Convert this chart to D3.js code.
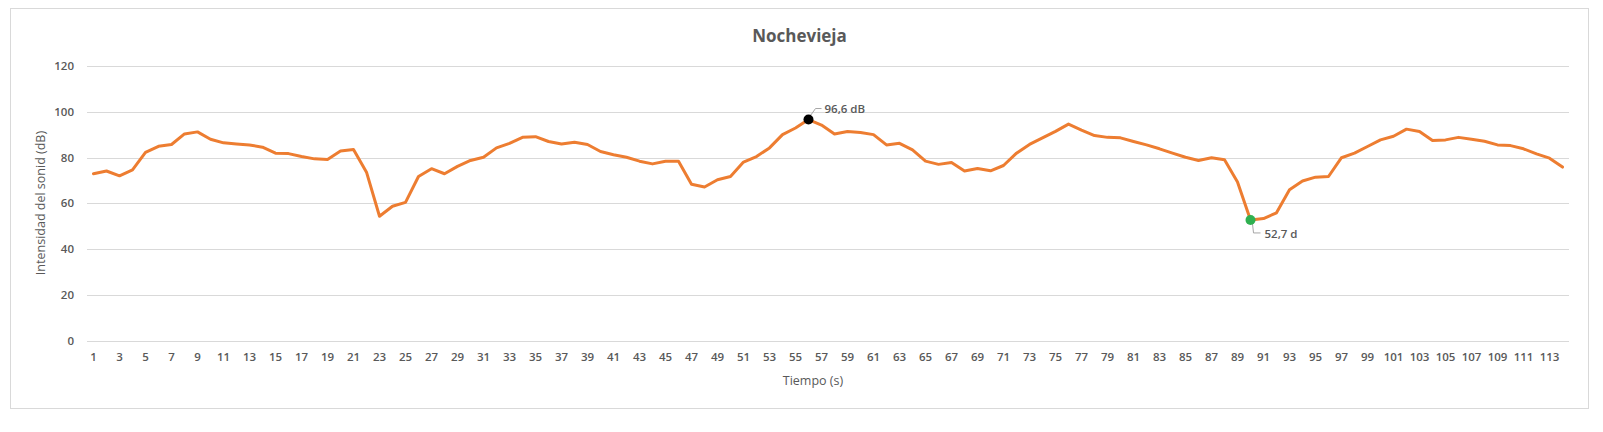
<!DOCTYPE html>
<html>
<head>
<meta charset="utf-8">
<script src="https://cdn.jsdelivr.net/npm/d3@7"></script>
<style>
  html, body { margin: 0; padding: 0; background: #fff; }
  svg { display: block; }
</style>
</head>
<body>
<svg id="chart" width="1603" height="432"></svg>
<script>
// ---- data ----
const chartTitle = "Nochevieja";
const xTitle = "Tiempo (s)";
const yTitle = "Intensidad del sonid (dB)";
const seconds = d3.range(1, 115);
const intensity = [
  72.9, 74.1, 72.0, 74.6, 82.2, 84.9, 85.7, 90.3, 91.2, 88.0,
  86.4, 85.9, 85.5, 84.5, 81.9, 81.7, 80.4, 79.4, 79.1, 82.8,
  83.5, 73.6, 54.3, 58.7, 60.4, 71.7, 75.1, 72.9, 76.1, 78.7,
  80.1, 84.2, 86.2, 88.8, 89.1, 87.0, 85.9, 86.7, 85.7, 82.6,
  81.2, 80.1, 78.4, 77.2, 78.4, 78.4, 68.3, 67.1, 70.3, 71.7,
  78.0, 80.4, 84.2, 90.0, 92.9, 96.6, 94.2, 90.3, 91.4, 90.9,
  90.0, 85.5, 86.2, 83.3, 78.4, 77.0, 77.8, 74.1, 75.2, 74.2,
  76.5, 81.9, 85.7, 88.6, 91.4, 94.6, 92.0, 89.6, 88.8, 88.6,
  87.0, 85.5, 83.8, 81.9, 80.1, 78.7, 79.9, 79.0, 69.3, 52.7,
  53.3, 55.8, 65.9, 69.7, 71.4, 71.7, 79.9, 81.9, 84.8, 87.7,
  89.3, 92.4, 91.4, 87.4, 87.7, 88.8, 88.0, 87.1, 85.5, 85.2,
  83.8, 81.6, 79.7, 75.8
];
const xTickLabels = seconds.filter(s => s % 2 === 1);
const yTicks = [0, 20, 40, 60, 80, 100, 120];
const maxPoint = { t: 56, label: "96,6 dB" };
const minPoint = { t: 90, label: "52,7 d" };

// ---- drawing ----
const svg = d3.select("#chart");
const font = "'Open Sans', 'Noto Sans', sans-serif";
const textColor = "#595959";

// outer chart border
svg.append("rect")
  .attr("x", 10.5).attr("y", 8.5)
  .attr("width", 1578).attr("height", 400)
  .attr("fill", "#fff").attr("stroke", "#d9d9d9").attr("stroke-width", 1);

const x = d3.scaleBand().domain(seconds).range([87, 1569]).padding(0);
const cx = d => x(d) + x.bandwidth() / 2;
const y = d3.scaleLinear().domain([0, 120]).range([340.5, 66]);

// gridlines
const yAxis = d3.axisLeft(y).tickValues(yTicks).tickSize(-(1569 - 87)).tickFormat(d3.format("d"));
const gy = svg.append("g").attr("transform", "translate(87,0)").call(yAxis);
gy.select(".domain").remove();
gy.selectAll(".tick line").attr("stroke", "#d9d9d9").attr("stroke-width", 1)
  .attr("shape-rendering", "crispEdges");
gy.selectAll(".tick text")
  .attr("x", -13).attr("fill", textColor)
  .style("font-family", font).style("font-size", "11.5px").style("font-weight", "600");

// x axis labels
const xAxis = d3.axisBottom(x).tickValues(xTickLabels).tickSize(0);
const gx = svg.append("g").attr("transform", "translate(0,340.5)").call(xAxis);
gx.select(".domain").remove();
gx.selectAll(".tick text")
  .attr("y", 12).attr("fill", textColor)
  .style("font-family", font).style("font-size", "11.5px").style("font-weight", "600");

// title
svg.append("text")
  .attr("x", 799.5).attr("y", 42)
  .attr("text-anchor", "middle").attr("fill", textColor)
  .style("font-family", font).style("font-size", "17px").style("font-weight", "700")
  .text(chartTitle);

// axis titles
svg.append("text")
  .attr("x", 813).attr("y", 385)
  .attr("text-anchor", "middle").attr("fill", textColor)
  .style("font-family", font).style("font-size", "12.5px")
  .text(xTitle);
svg.append("text")
  .attr("transform", "translate(45,203) rotate(-90)")
  .attr("text-anchor", "middle").attr("fill", textColor)
  .style("font-family", font).style("font-size", "12.5px")
  .text(yTitle);

// line
const pts = seconds.map((s, i) => ({ t: s, v: intensity[i] }));
svg.append("path")
  .datum(pts)
  .attr("fill", "none")
  .attr("stroke", "#ED7D31")
  .attr("stroke-width", 3)
  .attr("stroke-linejoin", "round")
  .attr("stroke-linecap", "round")
  .attr("d", d3.line().x(d => cx(d.t)).y(d => y(d.v)));

// annotations
function valOf(t) { return intensity[seconds.indexOf(t)]; }

// max marker
{
  const px = cx(maxPoint.t), py = y(valOf(maxPoint.t));
  svg.append("polyline")
    .attr("points", `${px + 2},${py - 4} ${px + 7},${py - 11} ${px + 13},${py - 11}`)
    .attr("fill", "none").attr("stroke", "#a6a6a6").attr("stroke-width", 1);
  svg.append("circle").attr("cx", px).attr("cy", py).attr("r", 5)
    .attr("fill", "#000");
  svg.append("text")
    .attr("x", px + 16).attr("y", py - 7)
    .attr("fill", textColor)
    .style("font-family", font).style("font-size", "11.5px").style("font-weight", "600")
    .text(maxPoint.label);
}
// min marker
{
  const px = cx(minPoint.t), py = y(valOf(minPoint.t));
  svg.append("polyline")
    .attr("points", `${px + 2},${py + 4} ${px + 3},${py + 13} ${px + 10},${py + 13}`)
    .attr("fill", "none").attr("stroke", "#a6a6a6").attr("stroke-width", 1);
  svg.append("circle").attr("cx", px).attr("cy", py).attr("r", 5)
    .attr("fill", "#2fb050");
  svg.append("text")
    .attr("x", px + 14).attr("y", py + 18)
    .attr("fill", textColor)
    .style("font-family", font).style("font-size", "11.5px").style("font-weight", "600")
    .text(minPoint.label);
}
</script>
</body>
</html>
